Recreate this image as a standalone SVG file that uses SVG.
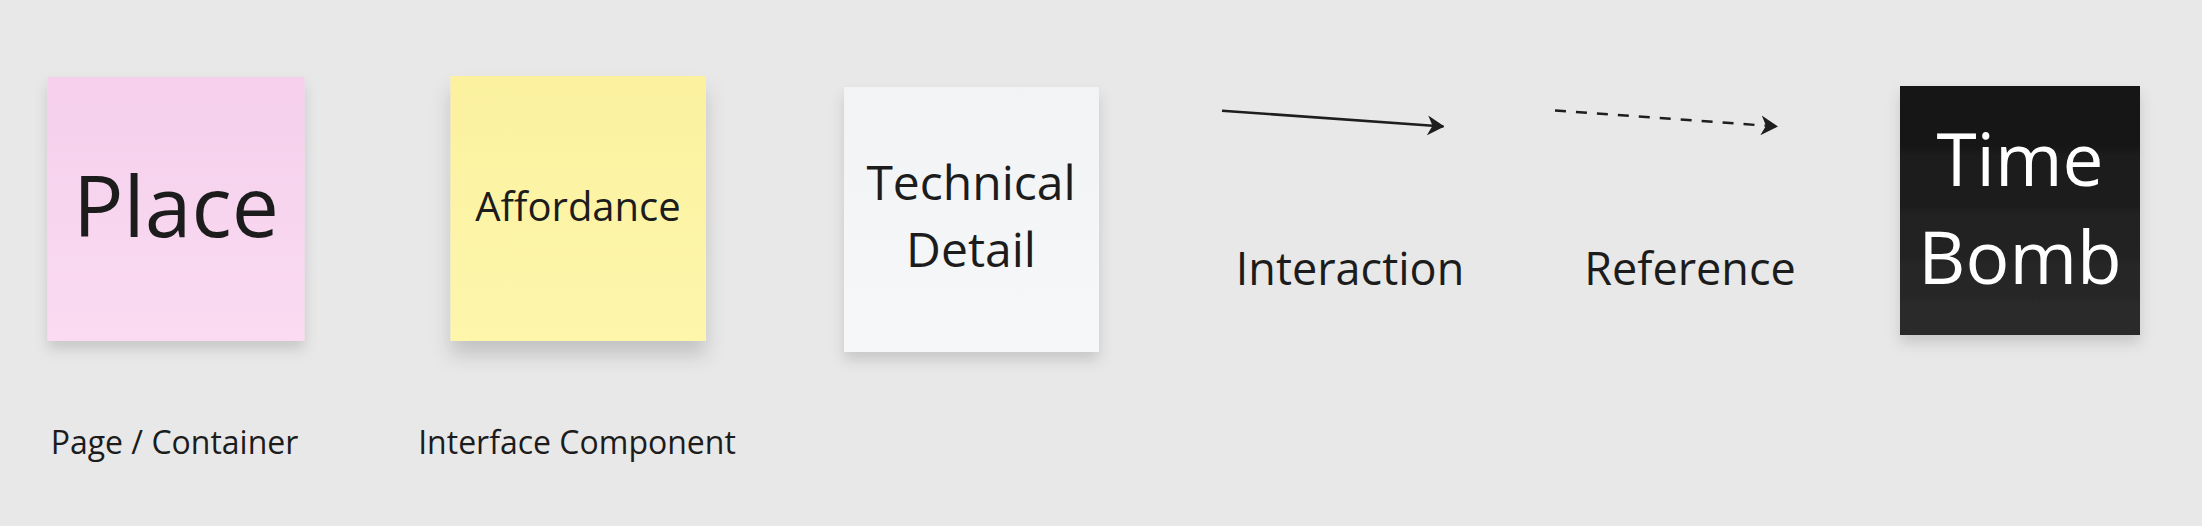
<svg xmlns="http://www.w3.org/2000/svg" width="2202" height="526" viewBox="0 0 2202 526">
  <style>
    .t { font-family: "Open Sans", "Noto Sans", "DejaVu Sans", sans-serif; fill: #1c1c1c; text-anchor: middle; }
    .w { fill: #ffffff; }
    .conn { stroke: #1e1e1e; stroke-width: 2.5; fill: none; }
  </style>
  <defs>
    <linearGradient id="gPink" x1="0" y1="0" x2="0" y2="1">
      <stop offset="0" stop-color="#f5cfec"/>
      <stop offset="1" stop-color="#fadbf2"/>
    </linearGradient>
    <linearGradient id="gYellow" x1="0" y1="0" x2="0" y2="1">
      <stop offset="0" stop-color="#fbf19f"/>
      <stop offset="1" stop-color="#fdf6ab"/>
    </linearGradient>
    <linearGradient id="gWhite" x1="0" y1="0" x2="0" y2="1">
      <stop offset="0" stop-color="#f2f3f5"/>
      <stop offset="1" stop-color="#f6f7f9"/>
    </linearGradient>
    <linearGradient id="gDark" x1="0" y1="0" x2="0" y2="1">
      <stop offset="0" stop-color="#131313"/>
      <stop offset="1" stop-color="#2c2c2c"/>
    </linearGradient>
    <filter id="shadow" x="-20%" y="-20%" width="140%" height="150%">
      <feDropShadow dx="0" dy="8" stdDeviation="7" flood-color="#000" flood-opacity="0.14"/>
    </filter>
    <filter id="shadowBig" x="-20%" y="-20%" width="140%" height="160%">
      <feDropShadow dx="0" dy="14" stdDeviation="10" flood-color="#000" flood-opacity="0.16"/>
    </filter>
    <marker id="arrow" viewBox="0 0 17 20" refX="16" refY="10" markerWidth="17" markerHeight="20" markerUnits="userSpaceOnUse" orient="auto">
      <path d="M0,0 L17,10 L0,20 L5,10 Z" fill="#1e1e1e"/>
    </marker>
  </defs>
  <rect width="2202" height="526" fill="#e8e8e8"/>

  <g id="place">
    <rect x="47.5" y="77" width="257" height="264" fill="url(#gPink)" filter="url(#shadow)"/>
    <text class="t" x="176" y="237" font-size="84">Place</text>
  </g>

  <g id="affordance">
    <rect x="450.5" y="76" width="255.5" height="265" fill="url(#gYellow)" filter="url(#shadowBig)"/>
    <text class="t" x="578" y="220.5" font-size="40">Affordance</text>
  </g>

  <g id="technical-detail">
    <rect x="844" y="87" width="255" height="265" fill="url(#gWhite)" filter="url(#shadow)"/>
    <text class="t" x="971" y="200" font-size="48">Technical</text>
    <text class="t" x="971" y="267" font-size="48">Detail</text>
  </g>

  <g id="time-bomb">
    <rect x="1900" y="86" width="240" height="249" fill="url(#gDark)" filter="url(#shadow)"/>
    <text class="t w" x="2020" y="185.5" font-size="73">Time</text>
    <text class="t w" x="2020" y="283.5" font-size="73">Bomb</text>
  </g>

  <g id="connectors">
    <line class="conn" x1="1222" y1="110.7" x2="1443.5" y2="126.5" marker-end="url(#arrow)"/>
    <line class="conn" x1="1555" y1="110.5" x2="1777" y2="126.5" stroke-dasharray="11 10" marker-end="url(#arrow)"/>
  </g>

  <g id="labels">
    <text class="t" x="174.5" y="453.5" font-size="32">Page / Container</text>
    <text class="t" x="577" y="453.5" font-size="32">Interface Component</text>
    <text class="t" x="1350" y="284.5" font-size="45">Interaction</text>
    <text class="t" x="1690" y="284.5" font-size="45">Reference</text>
  </g>
</svg>
